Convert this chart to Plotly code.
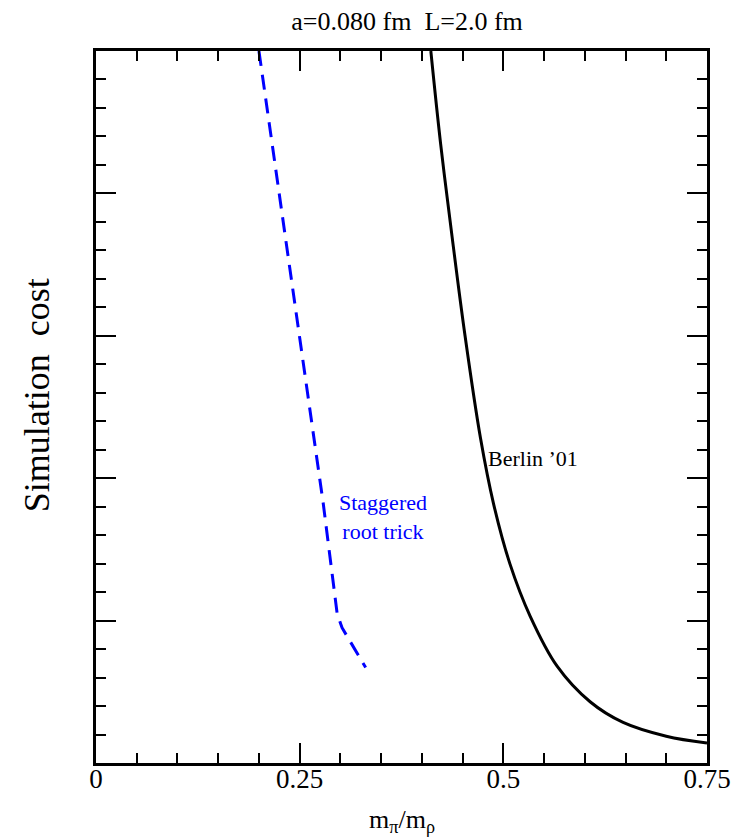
import plotly.graph_objects as go

# Data
berlin_x = [0.411, 0.423, 0.437, 0.453, 0.472, 0.488, 0.508, 0.533, 0.566, 0.6065,
            0.647, 0.700, 0.750]
berlin_y = [5.00, 4.35, 3.70, 3.00, 2.28, 1.82, 1.40, 1.03, 0.68, 0.43,
            0.285, 0.188, 0.14]

stag_x = [0.200, 0.226, 0.252, 0.279, 0.296, 0.302, 0.331]
stag_y = [5.00, 3.95, 2.93, 1.82, 1.05, 0.95, 0.67]

x_ticks = [0, 0.25, 0.5, 0.75]
x_ticklabels = ["0", "0.25", "0.5", "0.75"]

FONT = "Liberation Serif"

# page body has an 8px margin in the browser; the figure is sized to fit
W, H = 739, 830

fig = go.Figure()
fig.add_trace(go.Scatter(x=berlin_x, y=berlin_y, mode="lines",
                         line=dict(color="black", width=3, shape="spline", smoothing=1.0),
                         showlegend=False))
fig.add_trace(go.Scatter(x=stag_x, y=stag_y, mode="lines",
                         line=dict(color="#0000ff", width=3, dash="15px,9px"),
                         showlegend=False))

fig.add_annotation(x=0.479, y=2.14, xref="x", yref="y", text="Berlin ’01", showarrow=False,
                   xanchor="left", yanchor="middle", font=dict(family=FONT, size=22, color="black"))
fig.add_annotation(x=0.352, y=1.73, xref="x", yref="y", text="Staggered<br>root trick", showarrow=False,
                   xanchor="center", yanchor="middle", align="center",
                   font=dict(family=FONT, size=22, color="#0000ff"))

fig.add_annotation(x=-0.097, y=0.516, xref="paper", yref="paper", text="Simulation  cost",
                   textangle=-90, showarrow=False, xanchor="center", yanchor="middle",
                   font=dict(family=FONT, size=36, color="black"))
fig.add_annotation(x=0.5, y=-0.082, xref="paper", yref="paper",
                   text="m<sub>π</sub>/m<sub>ρ</sub>", showarrow=False,
                   xanchor="center", yanchor="middle", font=dict(family=FONT, size=26, color="black"))

fig.update_layout(
    width=W, height=H,
    margin=dict(l=87.5, r=40.3, t=42.7, b=74.8, autoexpand=False),
    paper_bgcolor="white", plot_bgcolor="white",
    title=dict(text="a=0.080 fm  L=2.0 fm", x=0.540, xanchor="center", xref="container",
               y=1 - 13 / H, yref="container", yanchor="middle",
               font=dict(family=FONT, size=26, color="black")),
    font=dict(family=FONT, color="black"),
)
fig.update_xaxes(range=[0, 0.75], tickvals=x_ticks, ticktext=x_ticklabels,
                 ticks="inside", ticklen=20, tickwidth=2, tickcolor="black",
                 minor=dict(dtick=0.05, tick0=0, ticks="inside", ticklen=10, tickwidth=2, tickcolor="black"),
                 showline=True, linecolor="black", linewidth=3, mirror="allticks",
                 showgrid=False, zeroline=False, ticklabelstandoff=-10,
                 tickfont=dict(family=FONT, size=27, color="black"))
fig.update_yaxes(range=[0, 5], dtick=1, tick0=0, showticklabels=False,
                 ticks="inside", ticklen=20, tickwidth=2, tickcolor="black",
                 minor=dict(dtick=0.2, tick0=0, ticks="inside", ticklen=10, tickwidth=2, tickcolor="black"),
                 showline=True, linecolor="black", linewidth=3, mirror="allticks",
                 showgrid=False, zeroline=False)

fig.write_html("out.html")
